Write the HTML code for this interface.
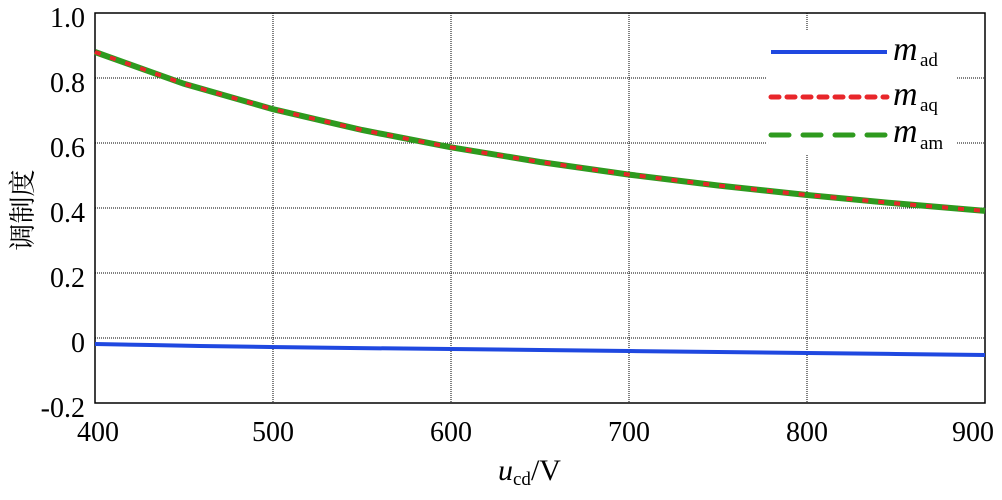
<!DOCTYPE html>
<html><head><meta charset="utf-8"><style>
body{margin:0;background:#fff;}
svg{display:block;font-family:"Liberation Serif","Noto Serif CJK SC",serif;}
</style></head><body>
<svg width="1002" height="500" viewBox="0 0 1002 500">
<g stroke="#000" stroke-width="1" stroke-dasharray="1,1">
<line x1="273" y1="13" x2="273" y2="403"/><line x1="451" y1="13" x2="451" y2="403"/>
<line x1="629" y1="13" x2="629" y2="403"/><line x1="807" y1="13" x2="807" y2="403"/>
<line x1="95" y1="78" x2="985" y2="78"/><line x1="95" y1="143" x2="985" y2="143"/>
<line x1="95" y1="208" x2="985" y2="208"/><line x1="95" y1="273" x2="985" y2="273"/>
<line x1="95" y1="338" x2="985" y2="338"/>
</g>
<rect x="767" y="30" width="190" height="125" fill="#fff"/>
<rect x="95" y="13" width="890" height="390" fill="none" stroke="#000" stroke-width="1.5"/>
<polyline fill="none" stroke="#1f48e0" stroke-width="4" points="95,344 150,345 200,346 270,347 350,348 451,349 540,350 629,351 718,352 807,353 896,354 985,355"/>
<polyline fill="none" stroke="#2e9a1e" stroke-width="6" points="95,52 184,83.8 273,109.2 362,130 451,147.3 540,162 629,174.6 718,185.5 807,195 896,203.4 985,210.9"/>
<polyline fill="none" stroke="#e8262a" stroke-width="4" stroke-dasharray="6,10" points="95,52 184,83.8 273,109.2 362,130 451,147.3 540,162 629,174.6 718,185.5 807,195 896,203.4 985,210.9"/>
<line x1="771" y1="52" x2="887" y2="52" stroke="#1f48e0" stroke-width="4"/>
<line x1="771" y1="97" x2="887" y2="97" stroke="#e8262a" stroke-width="5" stroke-dasharray="8,8" stroke-linecap="round"/>
<line x1="771" y1="135" x2="887" y2="135" stroke="#2e9a1e" stroke-width="5" stroke-dasharray="18,14" stroke-linecap="round"/>
<g font-size="34" fill="#000">
<text x="893" y="60" font-style="italic">m</text><text x="920" y="66" font-size="19">ad</text>
<text x="893" y="105" font-style="italic">m</text><text x="920" y="111" font-size="19">aq</text>
<text x="893" y="142" font-style="italic">m</text><text x="920" y="149" font-size="19">am</text>
</g>
<g font-size="28" fill="#000" text-anchor="end">
<text x="85" y="27">1.0</text><text x="85" y="92">0.8</text><text x="85" y="157">0.6</text>
<text x="85" y="222">0.4</text><text x="85" y="287">0.2</text><text x="85" y="352">0</text>
<text x="85" y="417">-0.2</text>
</g>
<g font-size="28" fill="#000" text-anchor="middle">
<text x="98" y="441">400</text><text x="273" y="441">500</text><text x="451" y="441">600</text>
<text x="629" y="441">700</text><text x="807" y="441">800</text><text x="973" y="441">900</text>
</g>
<text x="498" y="480" font-size="30" fill="#000"><tspan font-style="italic">u</tspan><tspan font-size="19" dy="5">cd</tspan><tspan dy="-5">/V</tspan></text>
<text transform="translate(32,210) rotate(-90)" font-size="27" text-anchor="middle" fill="#000">调制度</text>
</svg>
</body></html>
